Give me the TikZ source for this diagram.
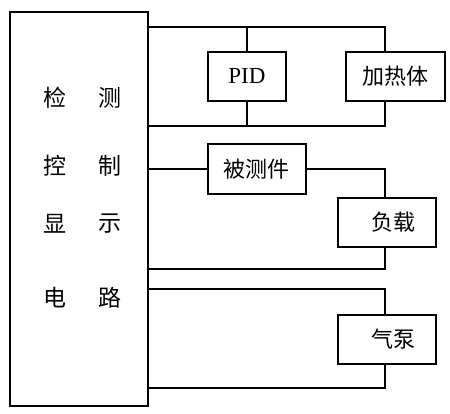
\documentclass[tikz,border=0pt]{standalone}
\usepackage{fontspec}
\setmainfont{Liberation Serif}
\newfontfamily\cjk{Noto Sans CJK SC}
\begin{document}
\begin{tikzpicture}[x=1pt,y=-1pt,
  blk/.style={draw,line width=1.8pt,inner sep=0pt,anchor=north west},
  wire/.style={line width=1.8pt},
  lbl/.style={font=\cjk\fontsize{22}{22}\selectfont,inner sep=0pt},
  big/.style={font=\cjk\fontsize{23}{23}\selectfont,inner sep=0pt}]
\useasboundingbox (0,0) rectangle (450,413);
% main box
\node[blk,minimum width=138pt,minimum height=394pt] (main) at (9,11) {};
\node[big] (t1) at (55,98) {检};
\node[big] (t2) at (110,98) {测};
\node[big] (t3) at (55,166) {控};
\node[big] (t4) at (110,166) {制};
\node[big] (t5) at (55,224) {显};
\node[big] (t6) at (110,224) {示};
\node[big] (t7) at (55,298) {电};
\node[big] (t8) at (110,298) {路};
% boxes
\node[blk,minimum width=78pt,minimum height=49pt] (pid) at (207,51) {};
\node[font=\fontsize{23}{23}\selectfont,inner sep=0pt] at (pid.center) {PID};
\node[blk,minimum width=99pt,minimum height=49pt] (heat) at (345,51) {};
\node[lbl] at (heat.center) {加热体};
\node[blk,minimum width=98pt,minimum height=50pt] (dut) at (207,143) {};
\node[lbl] at (dut.center) {被测件};
\node[blk,minimum width=98pt,minimum height=49pt] (load) at (337,197) {};
\node[lbl] at ([xshift=7pt]load.center) {负载};
\node[blk,minimum width=98pt,minimum height=49pt] (pump) at (337,314) {};
\node[lbl] at ([xshift=7pt]pump.center) {气泵};
% coordinates
\coordinate (a1) at (147,27);
\coordinate (a2) at (385,27);
\coordinate (b1) at (147,126);
\coordinate (b2) at (385,126);
\coordinate (c1) at (147,169);
\coordinate (c2) at (385,169);
\coordinate (d1) at (147,269);
\coordinate (d2) at (385,269);
\coordinate (e1) at (147,289);
\coordinate (e2) at (385,289);
\coordinate (f1) at (147,388);
\coordinate (f2) at (385,388);
% wires
\draw[wire] (a1) -- (a2) -- (a2 |- heat.north);
\draw[wire] (pid.north |- a1) -- (pid.north);
\draw[wire] (b1) -- (b2) -- (b2 |- heat.south);
\draw[wire] (pid.south |- b1) -- (pid.south);
\draw[wire] (c1) -- (c1 -| dut.west);
\draw[wire] (c1 -| dut.east) -- (c2) -- (c2 |- load.north);
\draw[wire] (d2 |- load.south) -- (d2) -- (d1);
\draw[wire] (e1) -- (e2) -- (e2 |- pump.north);
\draw[wire] (f2 |- pump.south) -- (f2) -- (f1);
\end{tikzpicture}
\end{document}
